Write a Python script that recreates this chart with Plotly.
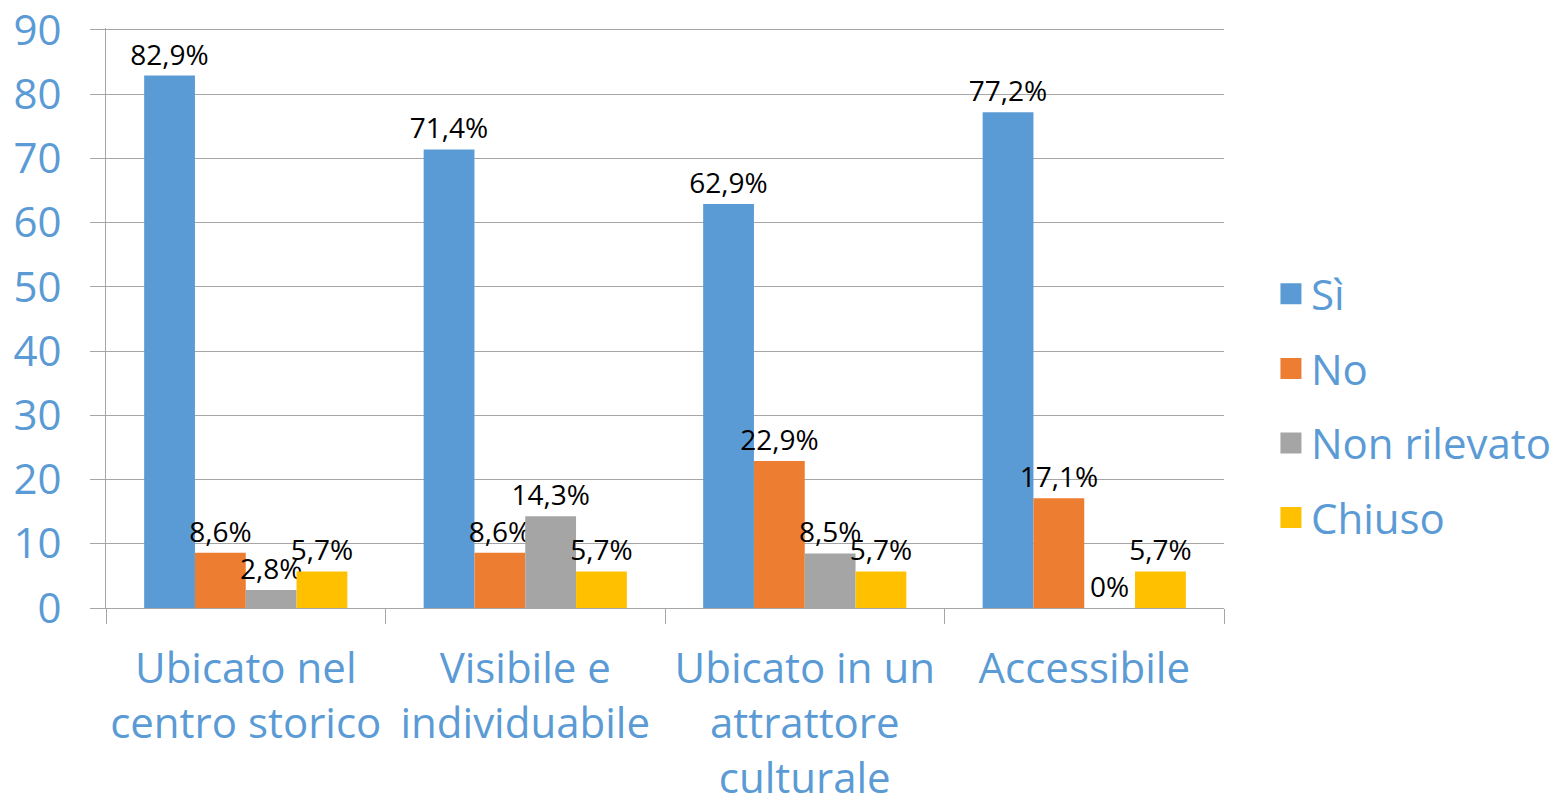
import plotly.graph_objects as go

categories = ["Ubicato nel<br>centro storico", "Visibile e<br>individuabile",
              "Ubicato in un<br>attrattore<br>culturale", "Accessibile"]
series_names = ["Sì", "No", "Non rilevato", "Chiuso"]
si = [82.9, 71.4, 62.9, 77.2]
no = [8.6, 8.6, 22.9, 17.1]
non_rilevato = [2.8, 14.3, 8.5, 0]
chiuso = [5.7, 5.7, 5.7, 5.7]
y_ticks = [0, 10, 20, 30, 40, 50, 60, 70, 80, 90]

colors = ["#5B9BD5", "#ED7D31", "#A5A5A5", "#FFC000"]
blue_text = "#5B9BD5"
FONT = "Open Sans"


def fmt(v):
    if v == 0:
        return "0%"
    return f"{v:.1f}".replace(".", ",") + "%"


fig = go.Figure()
for name, vals, col in zip(series_names, [si, no, non_rilevato, chiuso], colors):
    fig.add_trace(go.Bar(
        x=categories, y=vals, name=name, marker=dict(color=col, line=dict(width=0)),
        text=[fmt(v) for v in vals], textposition="outside",
        textfont=dict(size=28, color="black", family=FONT),
        constraintext="none", cliponaxis=False, showlegend=False,
    ))
    # legend entry with a larger square swatch
    fig.add_trace(go.Scatter(
        x=[None], y=[None], mode="markers", name=name, legendgroup=name,
        marker=dict(symbol="square", size=26, color=col, line=dict(color=col, width=5)),
    ))

# a little headroom above the top tick so its gridline is drawn
y_top = y_ticks[-1] + 0.31

fig.update_layout(
    width=1555, height=805,
    paper_bgcolor="white", plot_bgcolor="white",
    margin=dict(l=106, r=331, t=28, b=197, autoexpand=False),
    barmode="group", bargap=0.273, bargroupgap=0,
    font=dict(family=FONT, color=blue_text),
    legend=dict(x=1.042, xanchor="left", y=0.6, yanchor="top",
                font=dict(size=42, color=blue_text, family=FONT),
                tracegroupgap=17, itemsizing="trace", bgcolor="rgba(0,0,0,0)"),
)
fig.update_xaxes(
    type="category", tickson="boundaries", ticks="outside", ticklen=15,
    tickcolor="#A6A6A6", tickwidth=1, showgrid=False, automargin=False,
    showline=True, linecolor="#A6A6A6", linewidth=1, tickangle=0,
    tickfont=dict(size=42, color=blue_text, family=FONT), ticklabelstandoff=24,
)
fig.update_yaxes(
    range=[0, y_top], tickvals=y_ticks, ticks="outside", ticklen=15, automargin=False,
    tickcolor="#A6A6A6", showgrid=True, gridcolor="#A6A6A6", gridwidth=1,
    showline=True, linecolor="#A6A6A6", linewidth=1, zeroline=False,
    ticklabeloverflow="allow", ticklabelstandoff=20,
    tickfont=dict(size=42, color=blue_text, family=FONT),
)

fig.write_html(
    "out.html",
    config={"displayModeBar": False},
    post_script="document.body.style.margin='0';document.body.style.overflow='hidden';",
)
